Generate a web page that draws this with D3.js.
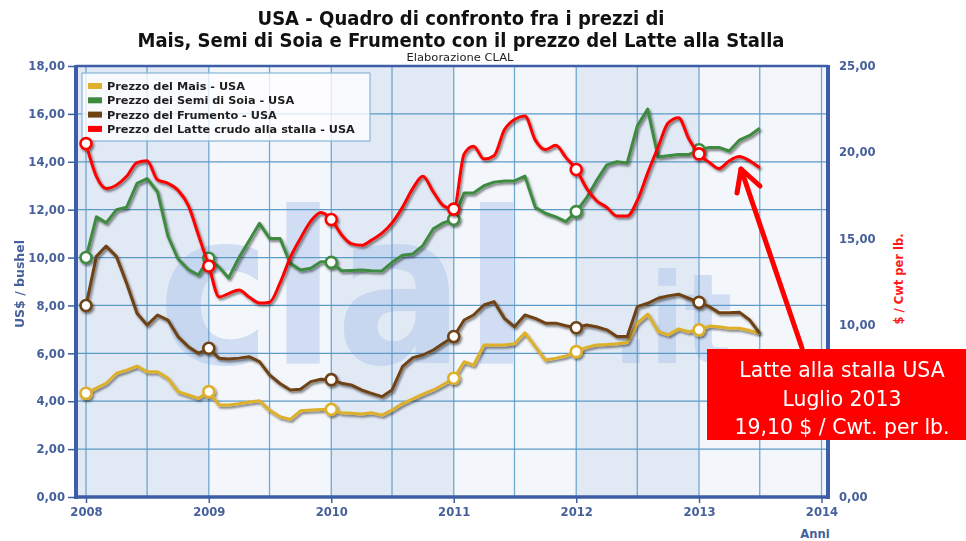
<!DOCTYPE html>
<html lang="it">
<head>
<meta charset="UTF-8">
<title>USA - Mais, Soia, Frumento e Latte</title>
<script src="https://cdn.jsdelivr.net/npm/d3@7"></script>
<style>
  body { margin: 0; background: #fff; }
  text { font-family: "DejaVu Sans", Verdana, sans-serif; }
</style>
</head>
<body>
<script>
  // dati mensili gen 2008 - lug 2013
  const startMonth = new Date(2008, 0, 1)
  const years = [2008, 2009, 2010, 2011, 2012, 2013, 2014]
  const leftTicks = [0, 2, 4, 6, 8, 10, 12, 14, 16, 18]
  // 5,00 è coperto dal riquadro rosso
  const rightTicks = [0, 10, 15, 20, 25]

  // US$ / bushel
  const mais = [
    4.33, 4.55, 4.75, 5.17, 5.30, 5.47, 5.23, 5.23, 4.96, 4.40, 4.26, 4.12,
    4.40, 3.84, 3.84, 3.90, 3.97, 4.02, 3.63, 3.35, 3.24, 3.60, 3.63, 3.65,
    3.66, 3.52, 3.50, 3.47, 3.52, 3.42, 3.63, 3.90, 4.10, 4.30, 4.47, 4.70,
    4.96, 5.65, 5.51, 6.35, 6.35, 6.35, 6.40, 6.86, 6.28, 5.72, 5.80, 5.89,
    6.07, 6.25, 6.35, 6.37, 6.40, 6.45, 7.26, 7.64, 6.91, 6.77, 7.02, 6.90,
    6.98, 7.14, 7.11, 7.05, 7.05, 6.95, 6.84
  ]
  const soia = [
    10.00, 11.70, 11.45, 12.00, 12.10, 13.10, 13.30, 12.75, 10.90, 9.95, 9.50, 9.27,
    9.97, 9.60, 9.15, 10.00, 10.70, 11.43, 10.80, 10.80, 9.76, 9.48, 9.55, 9.83,
    9.80, 9.45, 9.46, 9.48, 9.45, 9.44, 9.80, 10.10, 10.15, 10.50, 11.20, 11.45,
    11.60, 12.70, 12.70, 13.00, 13.15, 13.20, 13.20, 13.40, 12.10, 11.85, 11.70, 11.50,
    11.92, 12.50, 13.20, 13.87, 14.00, 13.95, 15.50, 16.20, 14.20, 14.25, 14.30, 14.30,
    14.50, 14.60, 14.60, 14.45, 14.90, 15.10, 15.40
  ]
  const frumento = [
    8.00, 10.05, 10.48, 10.04, 8.93, 7.67, 7.18, 7.60, 7.39, 6.70, 6.28, 6.00,
    6.21, 5.79, 5.76, 5.80, 5.86, 5.65, 5.10, 4.74, 4.47, 4.50, 4.82, 4.92,
    4.90, 4.75, 4.68, 4.47, 4.33, 4.19, 4.47, 5.44, 5.82, 5.93, 6.14, 6.42,
    6.70, 7.39, 7.60, 8.02, 8.16, 7.46, 7.11, 7.60, 7.46, 7.26, 7.26, 7.15,
    7.07, 7.18, 7.11, 6.98, 6.70, 6.70, 7.95, 8.09, 8.30, 8.40, 8.47, 8.30,
    8.13, 7.95, 7.70, 7.70, 7.72, 7.39, 6.84
  ]
  // $ / Cwt
  const latte = [
    20.50, 18.60, 17.90, 18.10, 18.60, 19.40, 19.50, 18.40, 18.20, 17.80, 16.90, 15.20,
    13.40, 11.60, 11.80, 12.00, 11.60, 11.25, 11.30, 12.40, 13.90, 15.00, 16.00, 16.50,
    16.10, 15.20, 14.70, 14.60, 14.90, 15.30, 15.90, 16.80, 17.90, 18.60, 17.70, 16.90,
    16.70, 19.90, 20.35, 19.60, 19.80, 21.30, 21.90, 22.10, 20.70, 20.15, 20.40, 19.70,
    19.00, 17.90, 17.20, 16.80, 16.30, 16.30, 17.20, 18.80, 20.30, 21.70, 22.00, 20.80,
    19.90, 19.40, 19.05, 19.50, 19.75, 19.50, 19.10
  ]

  const W = 966, H = 541
  const plot = { left: 76, right: 828, top: 66, bottom: 497 }
  const axisColor = '#3d5ea6'
  const labelColor = '#46609a'
  const gridColor = '#5d9ac6'

  const months = d3.range(mais.length).map(i => d3.timeMonth.offset(startMonth, i))

  const series = [
    { name: 'Prezzo del Mais - USA', values: mais, color: '#deb02c', axis: 'L' },
    { name: 'Prezzo del Frumento - USA', values: frumento, color: '#6e4313', axis: 'L' },
    { name: 'Prezzo dei Semi di Soia - USA', values: soia, color: '#3d8a3f', axis: 'L' },
    { name: 'Prezzo del Latte crudo alla stalla - USA', values: latte, color: '#ff0000', axis: 'R' }
  ]
  const legendOrder = [0, 2, 1, 3]

  const x = d3.scaleTime()
    .domain([new Date(2008, 0, 1), new Date(2014, 0, 1)])
    .range([86, 821.5])
  const yL = d3.scaleLinear().domain([0, 18]).range([plot.bottom, plot.top])
  const yR = d3.scaleLinear().domain([0, 25]).range([plot.bottom, plot.top])

  const svg = d3.select('body').append('svg').attr('width', W).attr('height', H)

  const defs = svg.append('defs')
  const shadow = defs.append('filter').attr('id', 'shadow')
    .attr('x', '-5%').attr('y', '-5%').attr('width', '110%').attr('height', '110%')
  shadow.append('feDropShadow')
    .attr('dx', 1.5).attr('dy', 2).attr('stdDeviation', 1.1)
    .attr('flood-color', '#000').attr('flood-opacity', 0.5)
  defs.append('clipPath').attr('id', 'clip').append('rect')
    .attr('x', plot.left).attr('y', plot.top)
    .attr('width', plot.right - plot.left).attr('height', plot.bottom - plot.top)

  // bande annuali
  const bands = svg.append('g')
  bands.append('rect')
    .attr('x', plot.left).attr('y', plot.top)
    .attr('width', plot.right - plot.left).attr('height', plot.bottom - plot.top)
    .attr('fill', '#f3f7fc')
  bands.selectAll('rect.band')
    .data(years.slice(0, -1).filter((d, i) => i % 2 === 0))
    .join('rect')
    .attr('class', 'band')
    .attr('x', d => d === 2008 ? plot.left : x(new Date(d, 0, 1)))
    .attr('width', d => x(new Date(d + 1, 0, 1)) - (d === 2008 ? plot.left : x(new Date(d, 0, 1))))
    .attr('y', plot.top).attr('height', plot.bottom - plot.top)
    .attr('fill', '#e1e9f5')

  // filigrana
  const wm = svg.append('g').attr('fill', '#b3c8ea').attr('opacity', 0.55).attr('font-weight', 'bold')
  wm.append('text')
    .attr('x', 158).attr('y', 363)
    .attr('textLength', 371).attr('lengthAdjust', 'spacingAndGlyphs')
    .attr('font-size', 212)
    .text('clal')
  wm.append('text')
    .attr('transform', 'translate(612,363) scale(1,1.25)')
    .attr('font-size', 100)
    .text('.it')

  // griglia
  const grid = svg.append('g').attr('stroke', gridColor).attr('stroke-width', 1.3)
  grid.selectAll('line.v')
    .data(d3.timeMonth.every(6).range(new Date(2008, 0, 1), new Date(2014, 0, 2)))
    .join('line').attr('class', 'v')
    .attr('x1', d => x(d)).attr('x2', d => x(d))
    .attr('y1', plot.top).attr('y2', plot.bottom)
    .attr('stroke-opacity', 0.85)
  grid.selectAll('line.h')
    .data(leftTicks.slice(1, -1))
    .join('line').attr('class', 'h')
    .attr('x1', plot.left).attr('x2', plot.right)
    .attr('y1', d => yL(d)).attr('y2', d => yL(d))

  // legenda
  const legend = svg.append('g').attr('transform', 'translate(82,73)')
  legend.append('rect')
    .attr('width', 288).attr('height', 68)
    .attr('fill', '#fff').attr('fill-opacity', 0.78)
    .attr('stroke', '#86b6da').attr('stroke-width', 1.2)
  legend.selectAll('g')
    .data(legendOrder.map(i => series[i]))
    .join('g')
    .attr('transform', (d, i) => `translate(0,${13 + i * 14.3})`)
    .call(g => g.append('rect')
      .attr('x', 6).attr('y', -3).attr('width', 14).attr('height', 6)
      .attr('fill', d => d.color))
    .call(g => g.append('text')
      .attr('x', 25).attr('y', 4)
      .attr('font-size', '11.3px').attr('font-weight', 'bold')
      .attr('fill', '#1e1e1e')
      .text(d => d.name))

  // linee
  const lines = svg.append('g').attr('clip-path', 'url(#clip)')
  series.forEach(s => {
    const yS = s.axis === 'L' ? yL : yR
    const line = d3.line()
      .x((d, i) => x(months[i]))
      .y(d => yS(d))
      .curve(s.axis === 'R' ? d3.curveMonotoneX : d3.curveLinear)
    const g = lines.append('g').attr('filter', 'url(#shadow)')
    g.append('path')
      .datum(s.values)
      .attr('d', line)
      .attr('fill', 'none')
      .attr('stroke', s.color)
      .attr('stroke-width', 3)
      .attr('stroke-linejoin', 'round')
    g.selectAll('circle')
      .data(s.values.map((v, i) => ({ v, i })).filter(d => months[d.i].getMonth() === 0))
      .join('circle')
      .attr('cx', d => x(months[d.i]))
      .attr('cy', d => yS(d.v))
      .attr('r', 5.5)
      .attr('fill', '#fff')
      .attr('stroke', s.color)
      .attr('stroke-width', 2.6)
  })

  // cornice
  const frame = svg.append('g').attr('stroke', axisColor).attr('fill', 'none')
  frame.append('line').attr('x1', plot.left).attr('x2', plot.right)
    .attr('y1', plot.top).attr('y2', plot.top).attr('stroke-width', 2.5)
  frame.append('line').attr('x1', plot.left).attr('x2', plot.right + 2)
    .attr('y1', plot.bottom).attr('y2', plot.bottom).attr('stroke-width', 3.5)
  frame.append('line').attr('x1', plot.left).attr('x2', plot.left)
    .attr('y1', plot.top - 1).attr('y2', plot.bottom + 2).attr('stroke-width', 4)
  frame.append('line').attr('x1', plot.right).attr('x2', plot.right)
    .attr('y1', plot.top - 1).attr('y2', plot.bottom + 2).attr('stroke-width', 4)

  // asse sinistro
  const yAxisL = g => g
    .attr('transform', `translate(${plot.left - 2},0)`)
    .call(d3.axisLeft(yL).tickValues(leftTicks).tickSize(6).tickPadding(3)
      .tickFormat(d => d3.format('.2f')(d).replace('.', ',')))
    .call(g => g.select('.domain').remove())
    .call(g => g.selectAll('line').attr('stroke', axisColor).attr('stroke-width', 1.5))
    .call(g => g.selectAll('text')
      .attr('fill', labelColor).attr('font-size', '11.6px').attr('font-weight', 'bold')
      .attr('font-family', '"DejaVu Sans", Verdana, sans-serif'))
  svg.append('g').call(yAxisL)

  // asse destro
  const yAxisR = g => g
    .attr('transform', `translate(${plot.right + 2},0)`)
    .call(d3.axisRight(yR).tickValues(rightTicks).tickSize(0).tickPadding(9)
      .tickFormat(d => d3.format('.2f')(d).replace('.', ',')))
    .call(g => g.select('.domain').remove())
    .call(g => g.selectAll('text')
      .attr('fill', labelColor).attr('font-size', '11.6px').attr('font-weight', 'bold')
      .attr('font-family', '"DejaVu Sans", Verdana, sans-serif'))
  svg.append('g').call(yAxisR)

  // asse x
  const xAxis = g => g
    .attr('transform', `translate(0,${plot.bottom})`)
    .call(d3.axisBottom(x).tickValues(years.map(yy => new Date(yy, 0, 1)))
      .tickSize(6).tickPadding(5).tickFormat(d3.timeFormat('%Y')))
    .call(g => g.select('.domain').remove())
    .call(g => g.selectAll('line').attr('stroke', axisColor).attr('stroke-width', 1.5))
    .call(g => g.selectAll('text')
      .attr('fill', labelColor).attr('font-size', '11.6px').attr('font-weight', 'bold')
      .attr('font-family', '"DejaVu Sans", Verdana, sans-serif'))
  svg.append('g').call(xAxis)

  svg.append('text')
    .attr('x', 815).attr('y', 538).attr('text-anchor', 'middle')
    .attr('font-size', '11.6px').attr('font-weight', 'bold').attr('fill', labelColor)
    .text('Anni')

  svg.append('text')
    .attr('transform', 'translate(24,284) rotate(-90)')
    .attr('text-anchor', 'middle')
    .attr('font-size', '12.5px').attr('font-weight', 'bold').attr('fill', labelColor)
    .text('US$ / bushel')

  svg.append('text')
    .attr('transform', 'translate(903,279) rotate(-90)')
    .attr('text-anchor', 'middle')
    .attr('font-size', '11.5px').attr('font-weight', 'bold').attr('fill', '#ff1a1a')
    .text('$ / Cwt per lb.')

  // titolo
  svg.append('text')
    .attr('x', 461).attr('y', 25).attr('text-anchor', 'middle')
    .attr('textLength', 407).attr('lengthAdjust', 'spacingAndGlyphs')
    .attr('font-size', '19px').attr('font-weight', 'bold').attr('fill', '#111')
    .text('USA - Quadro di confronto fra i prezzi di')
  svg.append('text')
    .attr('x', 461).attr('y', 47).attr('text-anchor', 'middle')
    .attr('textLength', 647).attr('lengthAdjust', 'spacingAndGlyphs')
    .attr('font-size', '19px').attr('font-weight', 'bold').attr('fill', '#111')
    .text('Mais, Semi di Soia e Frumento con il prezzo del Latte alla Stalla')
  svg.append('text')
    .attr('x', 460).attr('y', 61).attr('text-anchor', 'middle')
    .attr('textLength', 107).attr('lengthAdjust', 'spacingAndGlyphs')
    .attr('font-size', '11px').attr('fill', '#222')
    .text('Elaborazione CLAL')

  // annotazione
  const arrow = svg.append('g')
    .attr('stroke', '#ff0000').attr('stroke-width', 5)
    .attr('stroke-linecap', 'round').attr('stroke-linejoin', 'round').attr('fill', 'none')
  arrow.append('line').attr('x1', 802).attr('y1', 348).attr('x2', 741).attr('y2', 169)
  arrow.append('polyline').attr('points', '737,193 741,169 760,186')

  const note = svg.append('g')
  note.append('rect')
    .attr('x', 707).attr('y', 349).attr('width', 259).attr('height', 91)
    .attr('fill', '#ff0000')
  note.selectAll('text')
    .data(['Latte alla stalla USA', 'Luglio 2013', '19,10 $ / Cwt. per lb.'])
    .join('text')
    .attr('x', 842).attr('y', (d, i) => 377 + i * 28.5)
    .attr('text-anchor', 'middle')
    .attr('font-family', '"Open Sans", "Noto Sans", sans-serif')
    .attr('font-size', '20.4px').attr('fill', '#fff')
    .text(d => d)
</script>
</body>
</html>
